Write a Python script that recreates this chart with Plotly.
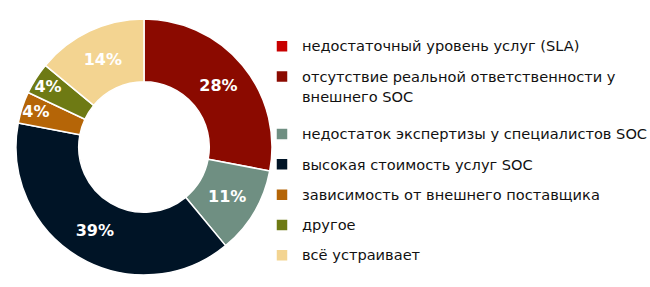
import plotly.graph_objects as go

labels = [
    "недостаточный уровень услуг (SLA)",
    "отсутствие реальной ответственности у<br>внешнего SOC",
    "недостаток экспертизы у специалистов SOC",
    "высокая стоимость услуг SOC",
    "зависимость от внешнего поставщика",
    "другое",
    "всё устраивает",
]
values = [0, 28, 11, 39, 4, 4, 14]
colors = ["#c80000", "#8b0a00", "#6f8f82", "#001426", "#b56507", "#6e7a14", "#f3d491"]

texts = ["" if v == 0 else "%{percent:.0%}" for v in values]


def legend_label(label):
    lines = label.split("<br>")
    out = []
    for i, line in enumerate(lines):
        shift = 3.2 if i == 0 else 10.5
        out.append(f"<span style='font-size:14.6px;baseline-shift:{shift}px'>{line}</span>")
    return "<br>".join(out)


legend_labels = [legend_label(l) for l in labels]

fig = go.Figure(go.Pie(
    labels=legend_labels,
    values=values,
    hole=0.51,
    sort=False,
    direction="clockwise",
    rotation=0,
    marker=dict(colors=colors, line=dict(color="white", width=1.5)),
    texttemplate=texts,
    textposition="inside",
    insidetextorientation="horizontal",
    insidetextfont=dict(family="DejaVu Sans", size=16, color="white", weight="bold"),
    domain=dict(x=[16/650, 272/650], y=[11/287, 269/287]),
    showlegend=True,
))

fig.update_layout(
    width=650, height=287,
    margin=dict(l=0, r=0, t=0, b=0, autoexpand=False),
    paper_bgcolor="white",
    plot_bgcolor="white",
    uniformtext=dict(minsize=16, mode="show"),
    font=dict(family="DejaVu Sans", color="#111111"),
    legend=dict(
        x=262/650, xanchor="left",
        y=1 - 26/287, yanchor="top",
        valign="top",
        font=dict(family="DejaVu Sans", size=21, color="#111111"),
        bgcolor="rgba(0,0,0,0)",
        traceorder="normal",
    ),
)

fig.write_html("out.html")
